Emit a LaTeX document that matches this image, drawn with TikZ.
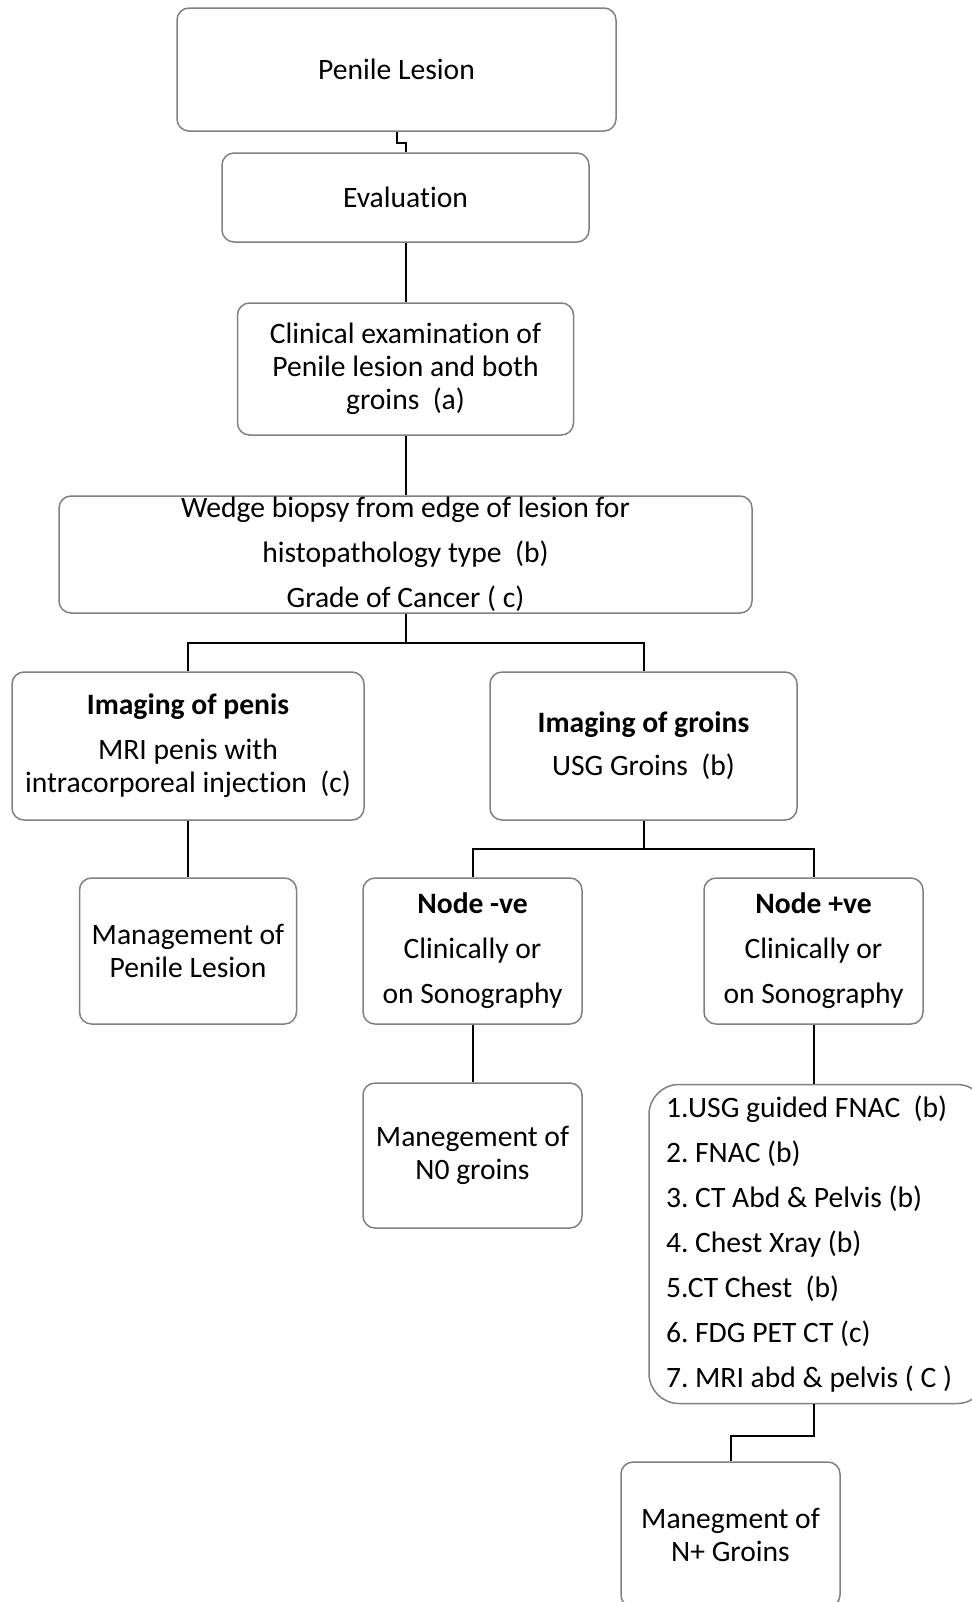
\documentclass[tikz,border=0pt]{standalone}
\usepackage{fontspec}
\setmainfont{Carlito}[Ligatures=NoCommon]
\definecolor{boxgray}{HTML}{808080}
\begin{document}
\frenchspacing
\begin{tikzpicture}[x=0.5pt,y=-0.5pt,
  box/.style={draw=boxgray, line width=0.75pt, rounded corners=6pt,
    align=center, inner sep=0pt, font=\fontsize{14.8pt}{16.5pt}\selectfont},
  link/.style={draw=black, line width=1pt}]
\useasboundingbox (0,0) rectangle (972,1602);

% boxes
\node[box, minimum width=219.5pt, minimum height=61.5pt] (pen) at (396.5,69.5) {Penile Lesion};
\node[box, minimum width=183.5pt, minimum height=44.5pt] (eval) at (405.5,197.5) {Evaluation};
\node[box, minimum width=168pt, minimum height=66pt] (clin) at (405.5,369)
  {Clinical examination of\\Penile lesion and both\\groins~~(a)};
\node[box, minimum width=346.5pt, minimum height=58.5pt] (wedge) at (405.5,554.5)
  {Wedge biopsy from edge of lesion for\\[6pt]histopathology type~~(b)\\[6pt]Grade of Cancer ( c)};
\node[box, minimum width=176pt, minimum height=74pt] (imgp) at (188,746)
  {\textbf{Imaging of penis}\\[6pt]MRI penis with\\intracorporeal injection~~(c)};
\node[box, minimum width=153.5pt, minimum height=74pt] (imgg) at (643.5,746)
  {\textbf{Imaging of groins}\\[5pt]USG Groins~~(b)};
\node[box, minimum width=108.5pt, minimum height=73pt] (mgp) at (188,951)
  {Management of\\Penile Lesion};
\node[box, minimum width=109.5pt, minimum height=73pt] (nneg) at (472.5,951)
  {\textbf{Node -ve}\\[6pt]Clinically or\\[6pt]on Sonography};
\node[box, minimum width=109.5pt, minimum height=73pt] (npos) at (813.5,951)
  {\textbf{Node +ve}\\[6pt]Clinically or\\[6pt]on Sonography};
\node[box, minimum width=109.5pt, minimum height=72.5pt] (mn0) at (472.5,1155.5)
  {Manegement of\\N0 groins};
\node[box, rounded corners=15pt, align=flush left, text width=152pt, inner xsep=8.5pt,
  minimum height=159.5pt] (list) at (818,1244)
  {1.USG guided FNAC~~(b)\\[6pt]2. FNAC (b)\\[6pt]3. CT Abd \& Pelvis (b)\\[6pt]4. Chest Xray (b)\\[6pt]5.CT Chest~~(b)\\[6pt]6. FDG PET CT (c)\\[6pt]7. MRI abd \& pelvis ( C )};
\node[box, minimum width=109.5pt, minimum height=72.5pt] (mnp) at (730.5,1534.5)
  {Manegment of\\N+ Groins};

% connectors
\draw[link] (pen.south) -- ++(0,11) -| (eval.north);
\draw[link] (eval.south) -- (clin.north);
\draw[link] (clin.south) -- (wedge.north);
\draw[link] (wedge.south) -- ++(0,29) coordinate (b1);
\draw[link] (imgp.north) |- (b1) -| (imgg.north);
\draw[link] (imgp.south) -- (mgp.north);
\draw[link] (imgg.south) -- ++(0,28) coordinate (b2);
\draw[link] (nneg.north) |- (b2) -| (npos.north);
\draw[link] (nneg.south) -- (mn0.north);
\draw[link] (npos.south) -- (npos.south |- list.north);
\draw[link] (npos.south |- list.south) -- ++(0,32) -| (mnp.north);
\end{tikzpicture}
\end{document}
